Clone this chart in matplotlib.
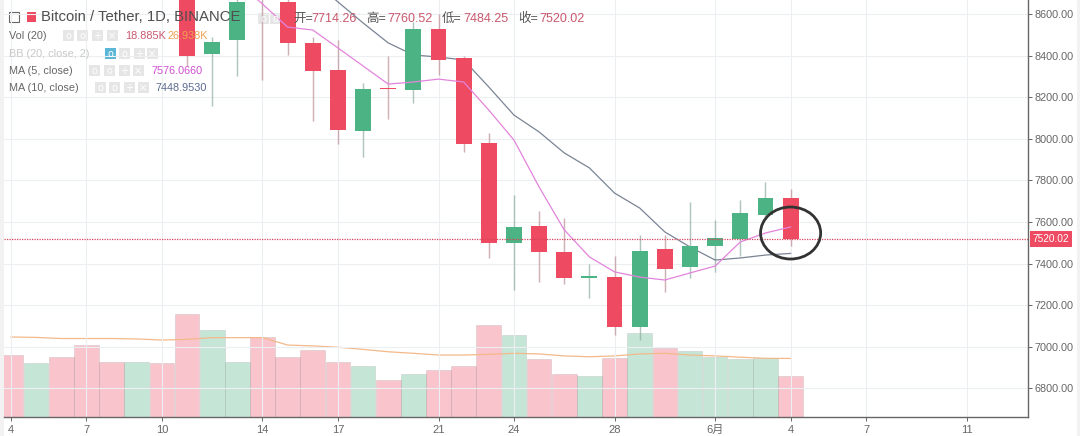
import matplotlib
matplotlib.use("Agg")
import matplotlib.pyplot as plt
from matplotlib.patches import Ellipse, Rectangle
from matplotlib.transforms import blended_transform_factory

FONT = ["Liberation Sans", "Noto Sans CJK SC"]
plt.rcParams["font.family"] = FONT

# day index 0 = 4 May, candles above the top of the pane are clipped
day_labels = ["4", "7", "10", "14", "17", "21", "24", "28", "6月", "4", "7", "11"]
day_ticks = [0, 3, 6, 10, 13, 17, 20, 24, 28, 31, 34, 38]
price_ticks = [6800, 7000, 7200, 7400, 7600, 7800, 8000, 8200, 8400, 8600]

candle_days = list(range(7, 32))
opens = [8780, 8408, 8475, 8850, 8658, 8460, 8331, 8037, 8242, 8235, 8528, 8388, 7980,
         7499, 7581, 7456, 7333, 7335, 7095, 7470, 7384, 7485, 7518, 7634, 7714.26]
highs = [8820, 8490, 8680, 8900, 8700, 8490, 8475, 8268, 8398, 8561, 8600, 8398, 8028,
         7730, 7653, 7619, 7398, 7436, 7537, 7537, 7696, 7610, 7706, 7792, 7760.52]
lows = [8350, 8158, 8302, 8283, 8403, 8086, 7975, 7912, 8095, 8172, 8307, 7937, 7427,
        7273, 7312, 7302, 7235, 7057, 7033, 7263, 7331, 7360, 7436, 7620, 7484.25]
closes = [8398, 8465, 8658, 8690, 8460, 8326, 8042, 8239, 8237, 8528, 8379, 7975, 7499,
          7576, 7456, 7331, 7338, 7095, 7461, 7374, 7485, 7523, 7643, 7715, 7520.02]

ma5_days = list(range(9, 32))
ma5 = [8754, 8648, 8537, 8523, 8437, 8350, 8263, 8273, 8287, 8273, 8138, 7994, 7768,
       7562, 7432, 7360, 7335, 7321, 7355, 7388, 7504, 7547, 7576.07]
ma10_days = list(range(12, 32))
ma10 = [8763, 8658, 8557, 8461, 8403, 8393, 8379, 8249, 8114, 8033, 7932, 7860, 7739,
        7667, 7552, 7480, 7417, 7427, 7441, 7448.95]

vol_days = list(range(0, 32))
volumes = [28.5, 24.7, 27.5, 33.1, 25.3, 25.3, 25.0, 47.4, 40.0, 25.3, 36.7, 27.7, 30.8, 25.4,
           23.5, 17.0, 19.8, 21.6, 23.5, 42.3, 37.7, 26.7, 19.8, 18.9, 27.1, 38.8, 31.7, 30.5,
           27.7, 26.7, 27.1, 18.885]
vol_up = [0, 1, 0, 0, 0, 1, 0, 0, 1, 1, 0, 0, 0, 0, 1, 0, 1, 0, 0, 0, 1, 0, 0, 1, 0, 1, 0, 1,
          1, 1, 1, 0]
vol_ma = [36.8, 36.6, 36.1, 36.1, 36.1, 35.9, 35.4, 35.7, 36.5, 36.5, 36.5, 33.1, 32.7, 32.1,
          31.1, 30.0, 29.3, 28.5, 28.5, 28.8, 29.3, 29.0, 28.1, 27.7, 28.1, 29.0, 29.3, 28.5,
          28.1, 27.5, 27.0, 26.938]
last_close = 7520.02

RED = "#ee4a62"
GREEN = "#4cb384"
W, H = 1080, 436


def fx(x):
    return x / W


def fy(y):
    return 1 - y / H


def label(x, y, s, color="#666666", size=7.8, **kw):
    fig.text(fx(x), fy(y), s, color=color, fontsize=size, va="center", ha="left", **kw)


def buttons(xs, y, color="#e2e2e2", first=None):
    for n, x in enumerate(xs):
        c = first if (first and n == 0) else color
        fig.add_artist(Rectangle((fx(x - 5.5), fy(y + 5.5)), 11 / W, 11 / H, transform=fig.transFigure,
                                 facecolor=c, edgecolor="none", alpha=0.85))
        fig.text(fx(x), fy(y), "+" if n == 2 else ("×" if n == 3 else "o"), color="white",
                 fontsize=7, ha="center", va="center", family="DejaVu Sans")


fig = plt.figure(figsize=(W / 100, H / 100), dpi=100)
ax = fig.add_axes([fx(4), fy(417), 1024 / W, 417 / H])
ax_vol = ax.twinx()
ax.set_zorder(ax_vol.get_zorder() + 1)
ax.patch.set_visible(False)
ax_vol.set_facecolor("white")

# volume pane
for d, v, up in zip(vol_days, volumes, vol_up):
    c = GREEN if up else RED
    ax_vol.bar(d, v, width=0.98, color=c, alpha=0.32, edgecolor="#999999", linewidth=0.5)
ax_vol.plot(vol_days, vol_ma, color="#f3b98a", lw=0.9)
ax_vol.set_ylim(0, 191.8)
ax_vol.set_yticks([])
ax_vol.tick_params(right=False, labelright=False)

# candles
for d, o, h, l, c in zip(candle_days, opens, highs, lows, closes):
    col = GREEN if c >= o else RED
    ax.vlines(d, l, h, color="#a8a8a8", lw=1, alpha=0.6, zorder=2)
    ax.vlines(d, l, h, color=col, lw=1, alpha=0.2, zorder=2)
    ax.bar(d, max(abs(c - o), 5), bottom=min(o, c), width=0.63, color=col, zorder=3)

ax.plot(ma5_days, ma5, color="#e384dc", lw=0.9, zorder=4)
ax.plot(ma10_days, ma10, color="#7a8494", lw=0.9, zorder=2.5)
ax.axhline(last_close, color="#d8425c", lw=0.9, ls=(0, (1, 1)), zorder=4)
ax.add_patch(Ellipse((31, 7547), 2.39, 250, fill=False, edgecolor="#333333", lw=2, zorder=5))

ax.set_xlim(-0.278, 40.44)
ax.set_ylim(6662.4, 8667.3)
ax.set_xticks(day_ticks)
ax.set_xticklabels(day_labels)
ax.set_yticks(price_ticks)
ax.set_yticklabels([f"{p:.2f}" for p in price_ticks])
ax.yaxis.tick_right()
ax.grid(True, color="#eceef2", lw=0.8, zorder=0)
ax.set_axisbelow(True)
ax.tick_params(axis="y", colors="#666666", labelsize=7.8, length=3, width=0.7, pad=1.5)
ax.tick_params(axis="x", colors="#666666", labelsize=8, length=3, width=0.7, pad=3)
for s in ["top", "left"]:
    ax.spines[s].set_visible(False)
    ax_vol.spines[s].set_visible(False)
for s in ["bottom", "right"]:
    ax.spines[s].set_color("#666666")
    ax.spines[s].set_linewidth(1)
    ax_vol.spines[s].set_visible(False)

# last price tag
tr = blended_transform_factory(ax.transAxes, ax.transData)
ax.text(1.0045, last_close, "7520.02", transform=tr, color="white", fontsize=7.3, va="center", ha="left",
        bbox=dict(boxstyle="square,pad=0.3", facecolor=RED, edgecolor="none"), zorder=6, clip_on=False)

# edge strips of the screenshot
fig.add_artist(Rectangle((0, 0), 4 / W, 1, transform=fig.transFigure, facecolor="#f2f2f2", edgecolor="none"))
fig.add_artist(Rectangle((fx(1077), 0), 3 / W, 1, transform=fig.transFigure, facecolor="#f2f2f2", edgecolor="none"))

# legend block
fig.add_artist(Rectangle((fx(9), fy(22)), 10 / W, 10 / H, transform=fig.transFigure, fill=False,
                         edgecolor="#666666", lw=0.8))
fig.add_artist(Rectangle((fx(27), fy(22)), 9 / W, 10 / H, transform=fig.transFigure, facecolor=RED,
                         edgecolor="none"))
label(41, 17, "Bitcoin / Tether, 1D, BINANCE", color="#4f4f4f", size=10.7)
buttons([263, 275], 19)
label(293, 19, "开=", color="#555555", size=9)
label(311, 19, "7714.26", color="#c9586c", size=9)
label(366, 19, "高=", color="#555555", size=9)
label(387, 19, "7760.52", color="#c9586c", size=9)
label(442, 19, "低=", color="#555555", size=9)
label(463, 19, "7484.25", color="#c9586c", size=9)
label(518, 19, "收=", color="#555555", size=9)
label(539, 19, "7520.02", color="#c9586c", size=9)

label(9, 36, "Vol (20)")
buttons([68, 82, 97, 112], 36)
label(125, 36, "18.885K", color="#c9586c")
label(168, 36, "26.938K", color="#f0a050")

label(9, 54, "BB (20, close, 2)", color="#c8c8c8")
buttons([110, 124, 139, 152], 54, first="#3fa9d0")

label(9, 71, "MA (5, close)")
buttons([94, 109, 124, 138], 71)
label(151, 71, "7576.0660", color="#d050d0")

label(9, 88, "MA (10, close)")
buttons([100, 114, 129, 143], 88)
label(156, 88, "7448.9530", color="#5a6a90")

fig.savefig("out.png", dpi=100)
